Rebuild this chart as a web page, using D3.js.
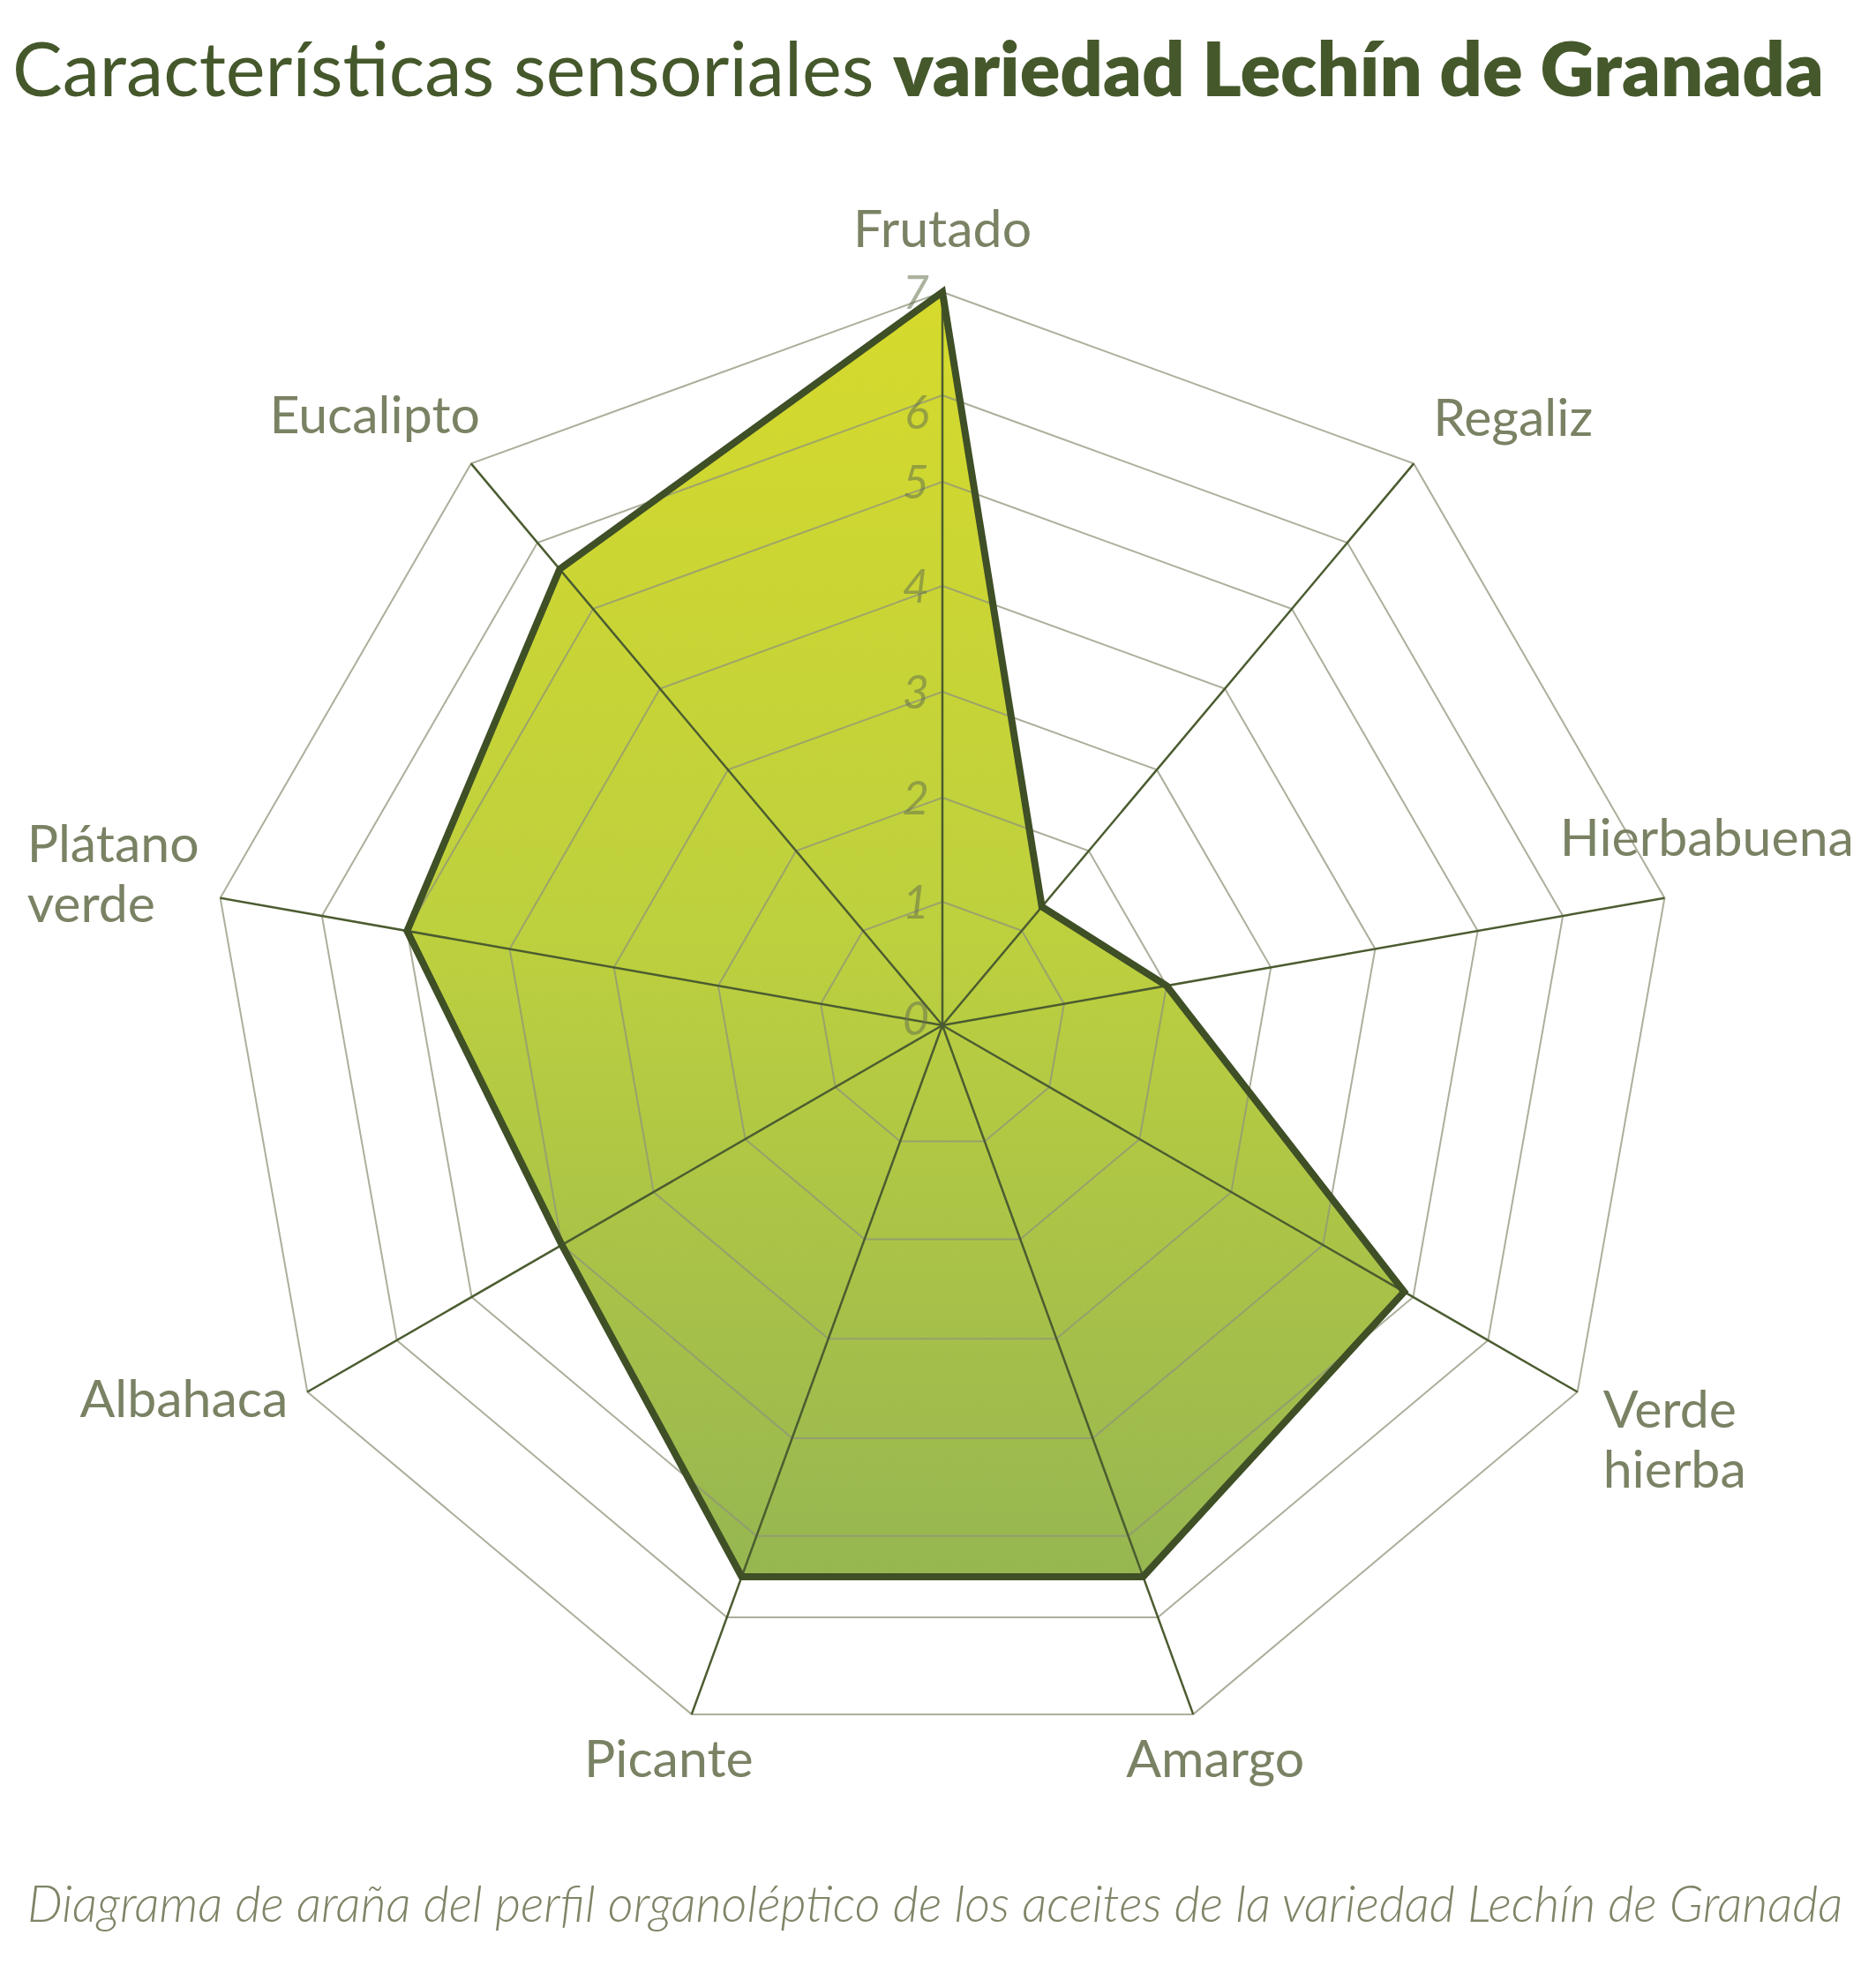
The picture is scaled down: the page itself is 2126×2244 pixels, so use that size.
<!DOCTYPE html>
<html>
<head>
<meta charset="utf-8">
<script src="https://cdn.jsdelivr.net/npm/d3@7"></script>
<style>
  html, body { margin: 0; padding: 0; background: #ffffff; }
  svg { display: block; }
</style>
</head>
<body>
<svg id="chart" width="2126" height="2244"></svg>
<script>
// ---------- data ----------
const categories = ["Frutado", "Regaliz", "Hierbabuena", "Verde hierba", "Amargo", "Picante", "Albahaca", "Plátano verde", "Eucalipto"];
const labelLines = [["Frutado"], ["Regaliz"], ["Hierbabuena"], ["Verde", "hierba"], ["Amargo"], ["Picante"], ["Albahaca"], ["Plátano", "verde"], ["Eucalipto"]];
const values = [7, 1.3, 2, 4.9, 5.5, 5.5, 4, 5, 5.6];
const ticks = [0, 1, 2, 3, 4, 5, 6, 7];
const titleRegular = "Características sensoriales ";
const titleBold = "variedad Lechín de Granada";
const footer = "Diagrama de araña del perfil organoléptico de los aceites de la variedad Lechín de Granada";

// ---------- layout ----------
const W = 2126, H = 2244;
const cx = 1068, cy = 1162;
const FONT = "Lato, 'Open Sans', 'DejaVu Sans', sans-serif";
const n = categories.length;
const step = 2 * Math.PI / n;

// radial scale (ring spacing as drawn in the original)
const r = d3.scaleLinear()
  .domain(ticks)
  .range([0, 140, 258, 378, 498, 616, 714, 831]);

const svg = d3.select("#chart");

const g = svg.append("g").attr("transform", `translate(${cx},${cy})`);

// gradient (coordinates relative to the chart group)
const defs = svg.append("defs");
const grad = defs.append("linearGradient")
  .attr("id", "fillGrad")
  .attr("gradientUnits", "userSpaceOnUse")
  .attr("x1", 0).attr("y1", -r(7))
  .attr("x2", 0).attr("y2", r(5.5) * Math.cos(Math.PI / 9));
grad.append("stop").attr("offset", "0%").attr("stop-color", "#d6da2c");
grad.append("stop").attr("offset", "50%").attr("stop-color", "#bdd03e");
grad.append("stop").attr("offset", "100%").attr("stop-color", "#96b651");

const radial = d3.lineRadial()
  .angle((d, i) => i * step)
  .radius(d => r(d))
  .curve(d3.curveLinearClosed);

// filled area
g.append("path")
  .datum(values)
  .attr("d", radial)
  .attr("fill", "url(#fillGrad)")
  .attr("stroke", "none");

// rings
g.selectAll("path.ring")
  .data(ticks.filter(t => t > 0))
  .join("path")
  .attr("class", "ring")
  .attr("d", t => radial(categories.map(() => t)))
  .attr("fill", "none")
  .attr("stroke", "#8f947a")
  .attr("stroke-opacity", 0.75)
  .attr("stroke-width", 2);

// spokes
const pt = (i, v) => [Math.sin(i * step) * r(v), -Math.cos(i * step) * r(v)];
g.selectAll("line.spoke")
  .data(categories)
  .join("line")
  .attr("class", "spoke")
  .attr("x1", 0).attr("y1", 0)
  .attr("x2", (d, i) => pt(i, 7)[0])
  .attr("y2", (d, i) => pt(i, 7)[1])
  .attr("stroke", "#4b5c30")
  .attr("stroke-width", 2.5);

// outline
g.append("path")
  .datum(values)
  .attr("d", radial)
  .attr("fill", "none")
  .attr("stroke", "#3f4f26")
  .attr("stroke-width", 8)
  .attr("stroke-linejoin", "miter")
  .attr("stroke-miterlimit", 10);

// tick labels
g.selectAll("text.tick")
  .data(ticks)
  .join("text")
  .attr("class", "tick")
  .attr("x", -15)
  .attr("y", t => -r(t) + 19 + (t === 6 ? 19 : 0) + (t === 0 ? -8 : 0))
  .attr("text-anchor", "end")
  .attr("font-family", FONT)
  .attr("font-style", "italic")
  .attr("font-weight", 400)
  .attr("font-size", 52)
  .attr("fill", "#66724c")
  .attr("fill-opacity", 0.55)
  .text(t => t);

// category labels
const labelLayout = [
  { dx: 0, dy: -51, anchor: "middle" },
  { dx: 22, dy: -31, anchor: "start" },
  { dx: 48, dy: -48, anchor: "middle" },
  { dx: 29, dy: 40, anchor: "start" },
  { dx: 25, dy: 71, anchor: "middle" },
  { dx: -26, dy: 71, anchor: "middle" },
  { dx: -22, dy: 28, anchor: "end" },
  { dx: -219, dy: -41, anchor: "start" },
  { dx: 10, dy: -34, anchor: "end" }
];
const lineH = 68;
categories.forEach((c, i) => {
  const [vx, vy] = pt(i, 7);
  const L = labelLayout[i];
  const t = g.append("text")
    .attr("font-family", FONT)
    .attr("font-size", 59)
    .attr("fill", "#7a8264")
    .attr("text-anchor", L.anchor);
  labelLines[i].forEach((line, k) => {
    t.append("tspan")
      .attr("x", vx + L.dx)
      .attr("y", vy + L.dy + k * lineH)
      .text(line);
  });
});

// title
const title = svg.append("text")
  .attr("x", 14)
  .attr("y", 109)
  .attr("font-family", FONT)
  .attr("font-size", 80)
  .attr("fill", "#45582b");
title.append("tspan").attr("font-weight", 400).text(titleRegular);
title.append("tspan").attr("font-weight", 800).text(titleBold);
{
  const w = title.node().getComputedTextLength();
  title.attr("font-size", 80 * 2053 / w);
}

// footer
const foot = svg.append("text")
  .attr("x", 31)
  .attr("y", 2178)
  .attr("font-family", FONT)
  .attr("font-style", "italic")
  .attr("font-weight", 300)
  .attr("font-size", 50)
  .attr("fill", "#7d8566")
  .text(footer);
{
  const w = foot.node().getComputedTextLength();
  foot.attr("font-size", 50 * 2058 / w);
}
</script>
</body>
</html>
